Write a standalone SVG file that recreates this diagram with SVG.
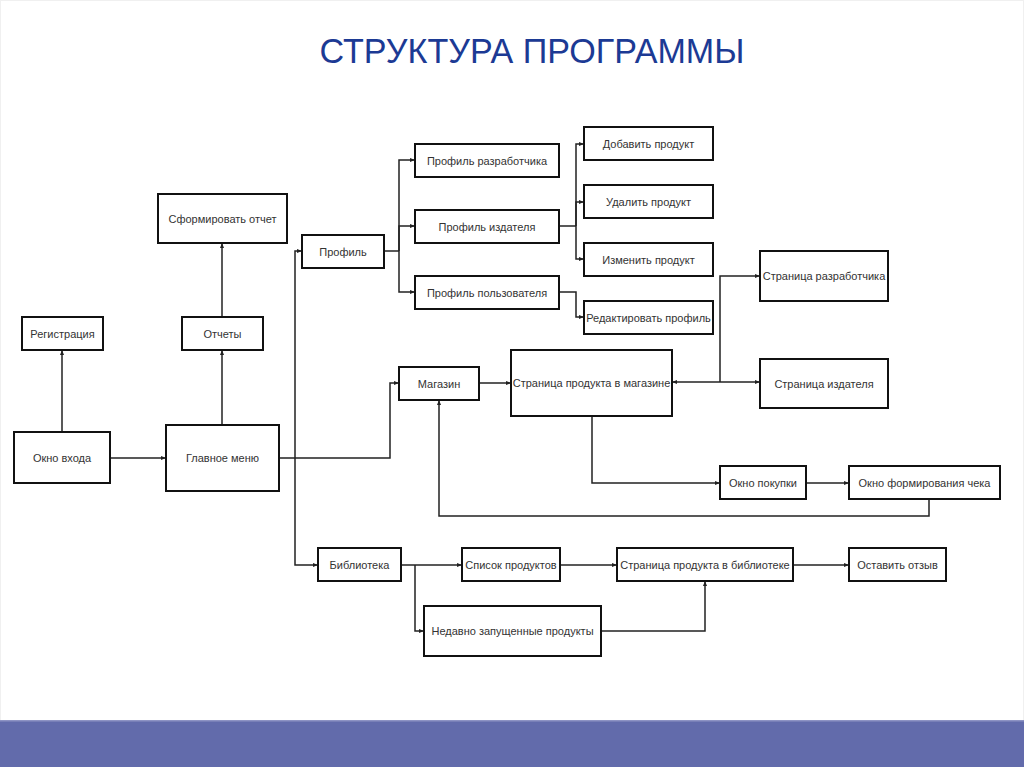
<svg xmlns="http://www.w3.org/2000/svg" width="1024" height="767" viewBox="0 0 1024 767">
<defs>
<style>
.box{fill:#fff;stroke:#111;stroke-width:2}
.lbl{font-family:"Liberation Sans",Arial,sans-serif;font-size:11px;fill:#333;text-anchor:middle;dominant-baseline:central}
.ln{fill:none;stroke:#222;stroke-width:1.5}
.title{font-family:"Liberation Sans",Arial,sans-serif;font-size:35px;fill:#1c3a94;text-anchor:middle}
</style>
<marker id="ah" viewBox="0 0 10 10" refX="10" refY="5" markerWidth="5" markerHeight="5" orient="auto" markerUnits="userSpaceOnUse">
<path d="M0,1 L10,5 L0,9 z" fill="#222"/>
</marker>
</defs>
<rect x="0" y="0" width="1024" height="767" fill="#fff"/>
<rect x="0.5" y="0.5" width="1023" height="720" fill="none" stroke="#f0f0f0"/>
<rect x="0" y="720" width="1024" height="47" fill="#626bab"/>
<rect x="0" y="720" width="1024" height="1.5" fill="#8d93c4"/>
<text class="title" x="532" y="63" textLength="425" lengthAdjust="spacingAndGlyphs">СТРУКТУРА ПРОГРАММЫ</text>

<g id="connectors">
<path class="ln" d="M110,458 H166" marker-end="url(#ah)"/>
<path class="ln" d="M62,432 V350" marker-end="url(#ah)"/>
<path class="ln" d="M222,425 V350" marker-end="url(#ah)"/>
<path class="ln" d="M222,317 V243" marker-end="url(#ah)"/>
<path class="ln" d="M279,458 H390 V383 H399" marker-end="url(#ah)"/>
<path class="ln" d="M295,458 V251 H302" marker-end="url(#ah)"/>
<path class="ln" d="M295,458 V565 H318" marker-end="url(#ah)"/>
<path class="ln" d="M384,251 H399"/>
<path class="ln" d="M399,251 V160 H415" marker-end="url(#ah)"/>
<path class="ln" d="M399,251 V226 H415" marker-end="url(#ah)"/>
<path class="ln" d="M399,251 V292 H415" marker-end="url(#ah)"/>
<path class="ln" d="M559,226 H576"/>
<path class="ln" d="M576,226 V144 H584" marker-end="url(#ah)"/>
<path class="ln" d="M576,226 V202 H584" marker-end="url(#ah)"/>
<path class="ln" d="M576,226 V259 H584" marker-end="url(#ah)"/>
<path class="ln" d="M559,292 H576 V317 H584" marker-end="url(#ah)"/>
<path class="ln" d="M479,383 H511" marker-end="url(#ah)"/>
<path class="ln" d="M720,382 H672" marker-end="url(#ah)"/>
<path class="ln" d="M720,382 H760" marker-end="url(#ah)"/>
<path class="ln" d="M720,382 V276 H760" marker-end="url(#ah)"/>
<path class="ln" d="M592,416 V483 H720" marker-end="url(#ah)"/>
<path class="ln" d="M806,483 H849" marker-end="url(#ah)"/>
<path class="ln" d="M929,499 V516 H439 V400" marker-end="url(#ah)"/>
<path class="ln" d="M401,565 H462" marker-end="url(#ah)"/>
<path class="ln" d="M415,565 V631 H424" marker-end="url(#ah)"/>
<path class="ln" d="M560,565 H617" marker-end="url(#ah)"/>
<path class="ln" d="M793,565 H849" marker-end="url(#ah)"/>
<path class="ln" d="M601,631 H705 V581" marker-end="url(#ah)"/>
</g>

<g id="n-registration"><rect class="box" x="22" y="317" width="81" height="33"/><text class="lbl" x="62.5" y="333.5">Регистрация</text></g>
<g id="n-login"><rect class="box" x="14" y="432" width="96" height="51"/><text class="lbl" x="62" y="457.5">Окно входа</text></g>
<g id="n-mainmenu"><rect class="box" x="166" y="425" width="113" height="66"/><text class="lbl" x="222.5" y="458">Главное меню</text></g>
<g id="n-reports"><rect class="box" x="182" y="317" width="81" height="33"/><text class="lbl" x="222.5" y="333.5">Отчеты</text></g>
<g id="n-makereport"><rect class="box" x="158" y="194" width="129" height="49"/><text class="lbl" x="222.5" y="218.5">Сформировать отчет</text></g>
<g id="n-profile"><rect class="box" x="302" y="235" width="82" height="33"/><text class="lbl" x="343" y="251.5">Профиль</text></g>
<g id="n-devprofile"><rect class="box" x="415" y="144" width="144" height="33"/><text class="lbl" x="487" y="160.5">Профиль разработчика</text></g>
<g id="n-pubprofile"><rect class="box" x="415" y="210" width="144" height="33"/><text class="lbl" x="487" y="226.5">Профиль издателя</text></g>
<g id="n-userprofile"><rect class="box" x="415" y="276" width="144" height="33"/><text class="lbl" x="487" y="292.5">Профиль пользователя</text></g>
<g id="n-addproduct"><rect class="box" x="584" y="127" width="129" height="33"/><text class="lbl" x="648.5" y="143.5">Добавить продукт</text></g>
<g id="n-delproduct"><rect class="box" x="584" y="185" width="129" height="33"/><text class="lbl" x="648.5" y="201.5">Удалить продукт</text></g>
<g id="n-editproduct"><rect class="box" x="584" y="243" width="129" height="33"/><text class="lbl" x="648.5" y="259.5">Изменить продукт</text></g>
<g id="n-editprofile"><rect class="box" x="584" y="301" width="129" height="33"/><text class="lbl" x="648.5" y="317.5">Редактировать профиль</text></g>
<g id="n-devpage"><rect class="box" x="760" y="251" width="128" height="50"/><text class="lbl" x="824" y="276">Страница разработчика</text></g>
<g id="n-shop"><rect class="box" x="399" y="367" width="80" height="33"/><text class="lbl" x="439" y="383.5">Магазин</text></g>
<g id="n-shopproduct"><rect class="box" x="511" y="350" width="161" height="66"/><text class="lbl" x="591.5" y="382.5">Страница продукта в магазине</text></g>
<g id="n-pubpage"><rect class="box" x="760" y="359" width="128" height="49"/><text class="lbl" x="824" y="383.5">Страница издателя</text></g>
<g id="n-buy"><rect class="box" x="720" y="466" width="86" height="33"/><text class="lbl" x="763" y="482.5">Окно покупки</text></g>
<g id="n-receipt"><rect class="box" x="849" y="466" width="151" height="33"/><text class="lbl" x="924.5" y="482.5">Окно формирования чека</text></g>
<g id="n-library"><rect class="box" x="318" y="548" width="83" height="33"/><text class="lbl" x="359.5" y="564.5">Библиотека</text></g>
<g id="n-productlist"><rect class="box" x="462" y="548" width="98" height="33"/><text class="lbl" x="511" y="564.5">Список продуктов</text></g>
<g id="n-libproduct"><rect class="box" x="617" y="548" width="176" height="33"/><text class="lbl" x="705" y="564.5">Страница продукта в библиотеке</text></g>
<g id="n-review"><rect class="box" x="849" y="548" width="97" height="33"/><text class="lbl" x="897.5" y="564.5">Оставить отзыв</text></g>
<g id="n-recent"><rect class="box" x="424" y="606" width="177" height="50"/><text class="lbl" x="512.5" y="631">Недавно запущенные продукты</text></g>
</svg>
